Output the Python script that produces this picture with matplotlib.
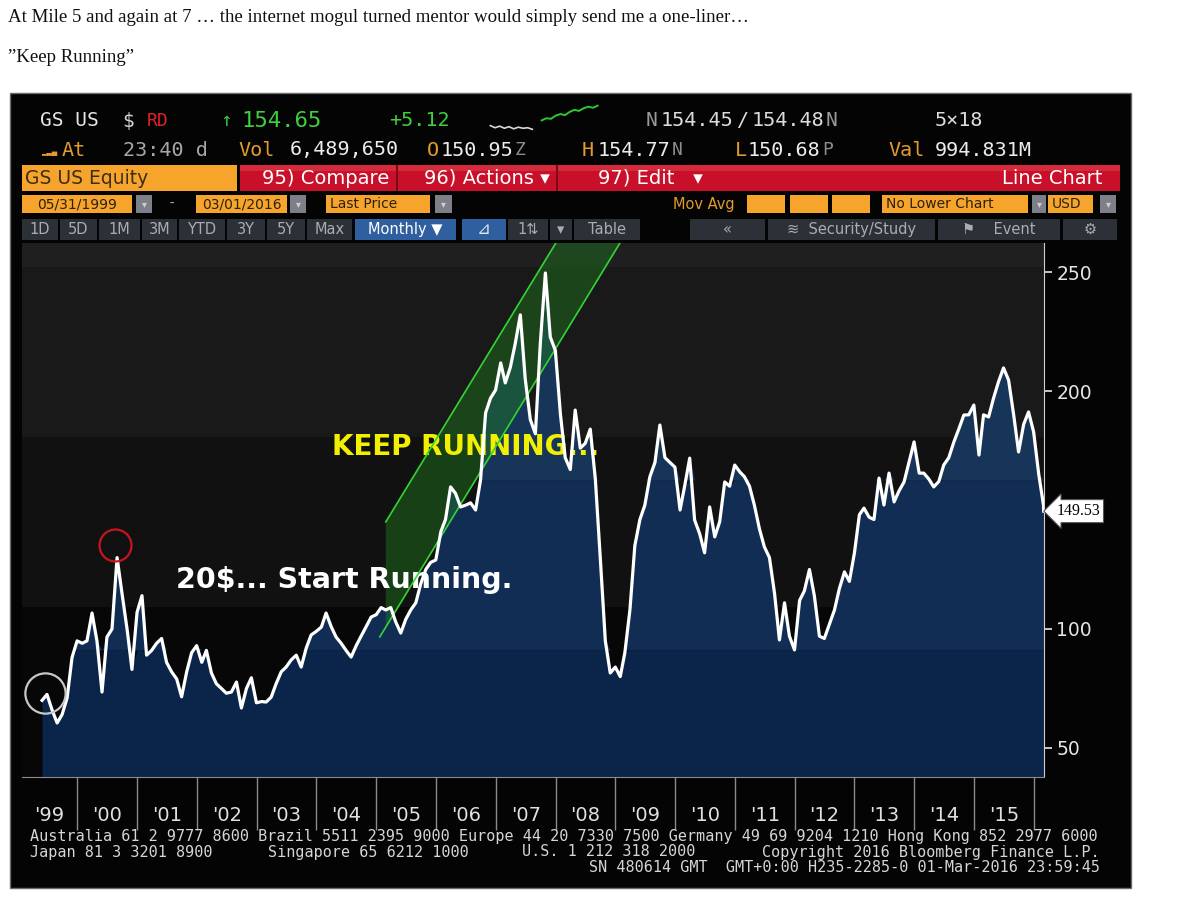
import numpy as np
import pandas as pd
import matplotlib
matplotlib.use('Agg')
import matplotlib.pyplot as plt
from matplotlib.patches import Rectangle, Polygon
from matplotlib.transforms import blended_transform_factory

# GS US Equity, monthly last price 05/31/1999 - 03/01/2016
p1999 = [70, 72.5, 66, 60.5, 64, 71, 88, 95]
p2000 = [94, 95, 106.7, 95, 73.5, 96.6, 100, 130, 115, 100, 83, 107]
p2001 = [114, 89, 91, 94, 96, 86, 82, 79, 71.5, 82, 90, 93]
p2002 = [86, 91, 81.5, 77, 75, 73, 73.5, 77.7, 66.8, 75, 79.5, 69]
p2003 = [69.5, 69.3, 71.4, 77, 82, 84, 87, 89, 84, 92, 97.5, 99]
p2004 = [100.8, 106.7, 101, 96.6, 94, 91, 88.2, 93, 97, 101, 105, 106]
p2005 = [109, 108, 109, 103, 98.3, 104, 108, 111, 119, 125, 128, 129]
p2006 = [141, 146, 159.7, 157, 151.3, 152, 153, 150, 162.6, 190.8, 197, 200.4]
p2007 = [211.8, 203.4, 210, 220, 232, 205, 188, 182, 220, 249.6, 222.7, 217]
p2008 = [190, 172, 167, 192, 176, 178, 184, 163, 130, 95, 81.5, 84]
p2009 = [80, 90, 108, 135, 146, 152, 164, 170, 185.7, 172, 170, 168]
p2010 = [150, 160, 171.8, 145.8, 140, 132, 151.3, 138.7, 145, 161.8, 160, 168.9]
p2011 = [166, 164, 160, 152, 142, 134.5, 130, 115, 95.4, 111, 97, 91.2]
p2012 = [112, 116, 125, 114, 97, 96, 102, 108, 117, 124, 120, 132]
p2013 = [148, 150.8, 147, 146, 163.4, 152.1, 165.5, 153.4, 158, 161.8, 170, 178.6]
p2014 = [165.5, 165.5, 163, 159.7, 162, 168.9, 172, 178.6, 184, 189.9, 190, 194.1]
p2015 = [173.1, 190, 189.1, 197, 204, 209.7, 204.6, 190, 174.4, 186, 191.2, 182.8]
p2016 = [165, 152, 149.53]

prices = np.array(p1999 + p2000 + p2001 + p2002 + p2003 + p2004 + p2005 + p2006 +
                  p2007 + p2008 + p2009 + p2010 + p2011 + p2012 + p2013 + p2014 +
                  p2015 + p2016)
dates = pd.date_range('1999-05-31', periods=202, freq='ME').append(pd.DatetimeIndex(['2016-03-01']))
t = np.asarray(dates.year + (dates.dayofyear - 1) / 365.25)

year_labels = ["'99", "'00", "'01", "'02", "'03", "'04", "'05", "'06", "'07",
               "'08", "'09", "'10", "'11", "'12", "'13", "'14", "'15"]
y_ticks = [50, 100, 200, 250]
last_price = 149.53

# tiny intraday sparkline in the header
spark_white = [2.0, 1.6, 1.9, 1.5, 1.8, 1.4, 1.7, 1.5, 1.6, 1.3]
spark_green = [3.0, 3.4, 3.3, 3.9, 4.2, 4.0, 4.6, 5.0, 4.8, 5.3, 5.6, 5.4, 5.8]

W, H = 1200, 900
fig = plt.figure(figsize=(12, 9), dpi=100)
fig.patch.set_facecolor('white')


def fx(x):
    return x / W


def fy(y):
    return 1 - y / H


def box(x0, y0, x1, y1, color, z=1, **kw):
    fig.add_artist(Rectangle((fx(x0), fy(y1)), (x1 - x0) / W, (y1 - y0) / H,
                             transform=fig.transFigure, facecolor=color,
                             edgecolor=kw.pop('ec', 'none'), zorder=z, **kw))


def txt(x, y, s, color, size, family='DejaVu Sans Mono', ha='left', weight='normal'):
    fig.text(fx(x), fy(y), s, color=color, fontsize=size, family=family,
             ha=ha, va='center', weight=weight, zorder=5)


ORANGE = '#f7a42c'
ORANGE_TXT = '#e39a2c'
GRAY_BTN = '#2c3037'

# page text above the screenshot
fig.text(fx(8), fy(18), 'At Mile 5 and again at 7 \u2026 the internet mogul turned mentor would '
         'simply send me a one-liner\u2026', family='Liberation Serif', fontsize=13.6,
         color='#111111', va='center')
fig.text(fx(8), fy(57), '\u201dKeep Running\u201d', family='Liberation Serif', fontsize=13.6,
         color='#111111', va='center')

# terminal panel
box(10, 93, 1131, 888, '#040404', z=-10, ec='#6a6a6a', lw=1)

# header row 1
txt(40, 121, 'GS US', '#e6e6e6', 14)
txt(122, 121, '$', '#d0d0d0', 14)
txt(147, 121, 'RD', '#e0202a', 13)
txt(220, 121, '\u2191', '#35c435', 14)
txt(241, 121, '154.65', '#3ed03e', 16)
txt(389, 121, '+5.12', '#3ed03e', 14.5)
txt(646, 121, 'N', '#9a9a9a', 14)
txt(661, 121, '154.45', '#dcdcdc', 14.5)
txt(737, 121, '/', '#dcdcdc', 14.5)
txt(752, 121, '154.48', '#dcdcdc', 14.5)
txt(826, 121, 'N', '#9a9a9a', 14)
txt(935, 121, '5\u00d718', '#dcdcdc', 14.5)

sx = fig.add_axes([fx(485), fy(133), 118 / W, 30 / H])
sx.plot(range(len(spark_white)), spark_white, color='#d8d8d8', lw=1.2)
sx.plot(range(len(spark_white) + 1, len(spark_white) + 1 + len(spark_green)), spark_green,
        color='#2ec82e', lw=1.4)
sx.set_ylim(0.6, 6.3)
sx.axis('off')

# header row 2
txt(41, 153, '\u2582\u2583\u2585', ORANGE_TXT, 5, family='DejaVu Sans')
txt(62, 150, 'At', ORANGE_TXT, 14.5)
txt(123, 150, '23:40 d', '#a8a8a8', 14.5)
txt(238, 150, 'Vol', ORANGE_TXT, 14.5)
txt(290, 150, '6,489,650', '#ececec', 14.5)
txt(427, 150, 'O', ORANGE_TXT, 14.5)
txt(441, 150, '150.95', '#ececec', 14.5)
txt(515, 150, 'Z', '#8c8c8c', 13)
txt(582, 150, 'H', ORANGE_TXT, 14.5)
txt(598, 150, '154.77', '#ececec', 14.5)
txt(672, 150, 'N', '#8c8c8c', 13)
txt(735, 150, 'L', ORANGE_TXT, 14.5)
txt(748, 150, '150.68', '#ececec', 14.5)
txt(822, 150, 'P', '#8c8c8c', 13)
txt(888, 150, 'Val', ORANGE_TXT, 14.5)
txt(935, 150, '994.831M', '#ececec', 14.5)

# security / red action bar
box(22, 165, 237, 191, ORANGE)
txt(25, 178, 'GS US Equity', '#3b2e18', 13.5, family='DejaVu Sans')
box(240, 165, 1120, 191, '#c8102a')
box(240, 165, 1120, 171, '#d42a3c')
for xd in (396, 556):
    box(xd, 165, xd + 2, 191, '#7a0a14')
txt(262, 178, '95) Compare', 'white', 14, family='DejaVu Sans')
txt(424, 178, '96) Actions \u25be', 'white', 14, family='DejaVu Sans')
txt(598, 178, '97) Edit   \u25be', 'white', 14, family='DejaVu Sans')
txt(1102, 178, 'Line Chart', 'white', 14, family='DejaVu Sans', ha='right')

# date / field row
row3 = [(22, 132, '05/31/1999', 'center'), (196, 287, '03/01/2016', 'center'),
        (326, 430, 'Last Price', 'left'), (747, 785, '', 'left'), (790, 828, '', 'left'),
        (832, 870, '', 'left'), (882, 1028, 'No Lower Chart', 'left'), (1048, 1093, 'USD', 'left')]
for x0, x1, s, ha in row3:
    box(x0, 195, x1, 213, ORANGE)
    if s:
        xt = (x0 + x1) / 2 if ha == 'center' else x0 + 4
        txt(xt, 204, s, '#2a2010', 10, family='DejaVu Sans', ha=ha)
for x0, x1 in [(136, 152), (290, 306), (435, 452), (1032, 1046), (1100, 1116)]:
    box(x0, 195, x1, 213, '#7d8088')
    txt((x0 + x1) / 2, 204, '\u25be', '#d0d0d0', 7, family='DejaVu Sans', ha='center')
txt(168, 204, '-', '#b0b0b0', 10)
txt(673, 204, 'Mov Avg', ORANGE_TXT, 10.5, family='DejaVu Sans')

# range / tool button row
row4 = [(22, 58, '1D'), (60, 97, '5D'), (99, 140, '1M'), (142, 177, '3M'), (179, 225, 'YTD'),
        (227, 265, '3Y'), (267, 305, '5Y'), (307, 352, 'Max'), (508, 548, '1\u21c5'),
        (550, 572, '\u25be'), (574, 640, 'Table'), (690, 765, '\u00ab'),
        (768, 935, '\u224b  Security/Study'), (938, 1060, '\u2691    Event'), (1063, 1117, '\u2699')]
for x0, x1, s in row4:
    box(x0, 219, x1, 240, GRAY_BTN)
    txt((x0 + x1) / 2, 229.5, s, '#a9adb3', 10.5, family='DejaVu Sans', ha='center')
box(355, 219, 456, 240, '#2f5f9e')
txt(405, 229.5, 'Monthly \u25bc', 'white', 10.5, family='DejaVu Sans', ha='center')
box(462, 219, 506, 240, '#2f5f9e')
txt(484, 229.5, '\u22bf', '#dfe6f0', 12, family='DejaVu Sans', ha='center')

# main chart
ax = fig.add_axes([fx(22), fy(777), (1044 - 22) / W, (777 - 243) / H])
x_lo, x_hi = 1999.075, 2016.17
y_lo, y_hi = 37.8, 262.2
ax.set_xlim(x_lo, x_hi)
ax.set_ylim(y_lo, y_hi)
ax.set_facecolor('#070707')

for lo, hi, c in [(y_lo, 109.2, '#070707'), (109.2, 180.7, '#111111'),
                  (180.7, 252.1, '#191919'), (252.1, 280, '#1f1f1f')]:
    ax.axhspan(lo, hi, color=c, lw=0, zorder=0)

for lo, hi, c in [(y_lo, 91.2, '#0b2449'), (91.2, 162.6, '#112d54'),
                  (162.6, 234, '#163558'), (234, 280, '#1a3a5e')]:
    ax.fill_between(t, lo, np.clip(prices, lo, hi), color=c, lw=0, zorder=1)

# "keep running" channel
slope = 41.2
t0, up0, lo0 = 2005.16, 145.0, 100.8
chan = Polygon([(t0, lo0), (t0, up0), (t0 + (270 - up0) / slope, 270),
                (t0 + (270 - lo0) / slope, 270)], closed=True,
               facecolor='#1f7a1f', alpha=0.45, lw=0, zorder=2)
ax.add_patch(chan)
ax.plot([t0, t0 + (270 - up0) / slope], [up0, 270], color='#33d433', lw=1.2, zorder=2.5)
ax.plot([t0 - 0.1, t0 + (270 - lo0) / slope], [lo0 - 0.1 * slope, 270], color='#33d433',
        lw=1.2, zorder=2.5)

# annotations sit above the channel fill, under its lines and the price line
ax.text(2001.65, 120.6, '20$... Start Running.', color='white', fontsize=20.5,
        weight='bold', va='center', zorder=2.2)
ax.text(2004.26, 176.5, 'KEEP RUNNING...', color='#f2f000', fontsize=20,
        weight='bold', va='center', zorder=2.2)

ax.plot(t, prices, color='white', lw=2.3, solid_joinstyle='round', zorder=3)

ax.plot(2000.63, 135.3, 'o', ms=23, mfc='none', mec='#c8141e', mew=1.6, zorder=4)
ax.plot(1999.46, 73.1, 'o', ms=29, mfc='none', mec='#c8c8c8', mew=1.6, zorder=4)

for s in ['top', 'left']:
    ax.spines[s].set_visible(False)
ax.spines['right'].set_color('#d0d0d0')
ax.spines['bottom'].set_color('#8c8c8c')
ax.yaxis.tick_right()
ax.set_yticks(y_ticks)
ax.tick_params(axis='y', colors='#e6e6e6', length=6, width=1.2, labelsize=13.5, pad=3)
ax.set_xticks(range(2000, 2017))
ax.tick_params(axis='x', length=38, color='#8a8a8a', width=1, labelbottom=False)

centers = [(x_lo + 2000) / 2] + [y + 0.5 for y in range(2000, 2016)]
for xc, lab in zip(centers, year_labels):
    ax.text(xc, -0.072, lab, transform=ax.get_xaxis_transform(), ha='center', va='center',
            color='#e0e0e0', fontsize=14, clip_on=False)

trans = blended_transform_factory(ax.transAxes, ax.transData)
ax.text(1.012, last_price, f'{last_price:.2f}', transform=trans, ha='left', va='center',
        fontsize=11.5, family='Liberation Serif', color='black', clip_on=False,
        bbox=dict(boxstyle='larrow,pad=0.22', fc='white', ec='#555555', lw=0.8))

# footer
foot = '#d6d6d6'
txt(30, 836, 'Australia 61 2 9777 8600 Brazil 5511 2395 9000 Europe 44 20 7330 7500 '
    'Germany 49 69 9204 1210 Hong Kong 852 2977 6000', foot, 10.9)
txt(30, 852, 'Japan 81 3 3201 8900', foot, 10.9)
txt(268, 852, 'Singapore 65 6212 1000', foot, 10.9)
txt(522, 852, 'U.S. 1 212 318 2000', foot, 10.9)
txt(1100, 852, 'Copyright 2016 Bloomberg Finance L.P.', foot, 10.9, ha='right')
txt(1100, 868, 'SN 480614 GMT  GMT+0:00 H235-2285-0 01-Mar-2016 23:59:45', foot, 10.9, ha='right')

fig.savefig('out.png', dpi=100, facecolor='white')
